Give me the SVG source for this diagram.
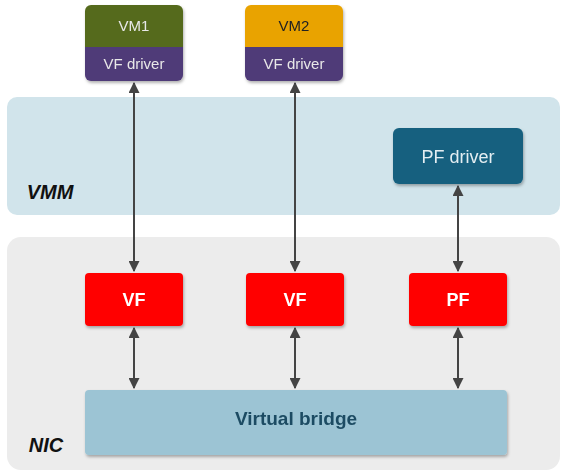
<svg xmlns="http://www.w3.org/2000/svg" width="569" height="474" viewBox="0 0 569 474">
<defs>
<style>
text{font-family:"Liberation Sans",Arial,sans-serif;text-anchor:middle}
.lbl{font-size:15px}
.vf{font-size:18px;font-weight:bold;fill:#fff}
.conn line{stroke:#444;stroke-width:2;marker-start:url(#ah);marker-end:url(#ah)}
.red{fill:#ff0000}
</style>
<marker id="ah" viewBox="0 0 10 10" refX="9" refY="5" markerWidth="5.5" markerHeight="5.5" orient="auto-start-reverse" markerUnits="strokeWidth">
<path d="M0,0 L10,5 L0,10 z" fill="#444"/>
</marker>
<filter id="sh" x="-10%" y="-10%" width="120%" height="130%">
<feDropShadow dx="1" dy="2" stdDeviation="1.5" flood-color="#000" flood-opacity="0.3"/>
</filter>
</defs>
<rect width="569" height="474" fill="#fff"/>
<g id="vmm">
<rect x="7" y="97" width="553" height="118" rx="10" fill="#d1e4eb"/>
<text x="50" y="199" style="font-size:20px;font-weight:bold;font-style:italic" fill="#111">VMM</text>
</g>
<g id="nic">
<rect x="7" y="237" width="553" height="233" rx="14" fill="#ececec"/>
<text x="46" y="452" style="font-size:20px;font-weight:bold;font-style:italic" fill="#111">NIC</text>
</g>
<g id="vm1" filter="url(#sh)">
<path d="M91,5 H177 a6,6 0 0 1 6,6 V47 H85 V11 a6,6 0 0 1 6,-6 z" fill="#556b1f"/>
<path d="M85,47 H183 V75 a6,6 0 0 1 -6,6 H91 a6,6 0 0 1 -6,-6 z" fill="#503a78"/>
<text x="134" y="31" class="lbl" fill="#e8e8e8">VM1</text>
<text x="134" y="69" class="lbl" fill="#e8e8e8">VF driver</text>
</g>
<g id="vm2" filter="url(#sh)">
<path d="M251,5 H337 a6,6 0 0 1 6,6 V47 H245 V11 a6,6 0 0 1 6,-6 z" fill="#e9a300"/>
<path d="M245,47 H343 V75 a6,6 0 0 1 -6,6 H251 a6,6 0 0 1 -6,-6 z" fill="#503a78"/>
<text x="294" y="31" class="lbl" fill="#222">VM2</text>
<text x="294" y="69" class="lbl" fill="#e8e8e8">VF driver</text>
</g>
<g id="pfdriver" filter="url(#sh)">
<rect x="393" y="128" width="130" height="56" rx="6" fill="#17607f"/>
<text x="458" y="163" style="font-size:18px" fill="#e4eef2">PF driver</text>
</g>
<g id="vf1" filter="url(#sh)">
<rect x="85" y="273" width="98" height="53" rx="4" class="red"/>
<text x="134" y="306" class="vf">VF</text>
</g>
<g id="vf2" filter="url(#sh)">
<rect x="246" y="273" width="98" height="53" rx="4" class="red"/>
<text x="295" y="306" class="vf">VF</text>
</g>
<g id="pf" filter="url(#sh)">
<rect x="409" y="273" width="98" height="53" rx="4" class="red"/>
<text x="458" y="306" class="vf">PF</text>
</g>
<g id="bridge" filter="url(#sh)">
<rect x="85" y="390" width="422" height="65" rx="4" fill="#9cc4d4"/>
<text x="296" y="425" style="font-size:19px;font-weight:bold" fill="#1d4c63">Virtual bridge</text>
</g>
<g id="connectors" class="conn">
<line x1="134" y1="83" x2="134" y2="271"/>
<line x1="295" y1="83" x2="295" y2="271"/>
<line x1="458" y1="186" x2="458" y2="271"/>
<line x1="134" y1="328" x2="134" y2="388"/>
<line x1="295" y1="328" x2="295" y2="388"/>
<line x1="458" y1="328" x2="458" y2="388"/>
</g>
</svg>
